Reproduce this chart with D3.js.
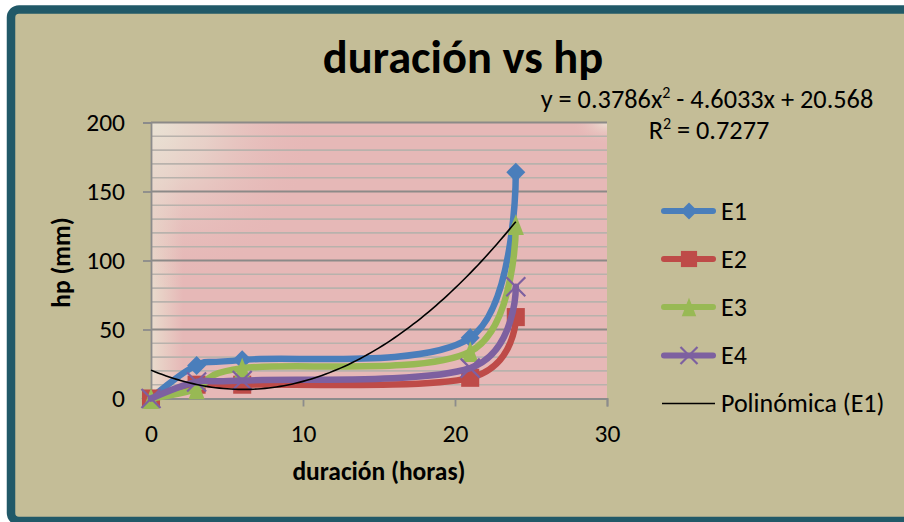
<!DOCTYPE html>
<html>
<head>
<meta charset="utf-8">
<script src="https://cdn.jsdelivr.net/npm/d3@7"></script>
<style>
  html, body { margin: 0; padding: 0; background: #ffffff; }
  svg { display: block; }
  text { font-family: Carlito, Lato, "Open Sans", sans-serif; fill: #000; }
</style>
</head>
<body>
<svg id="chart" width="904" height="522"></svg>
<script>
// ---- data ----
const hours = [0, 3, 6, 21, 24];
const E1 = [0, 24, 28, 44, 164];
const E2 = [0, 10, 10, 15, 59];
const E3 = [0, 7, 22, 34, 126];
const E4 = [0, 12, 13, 22, 81];
const seriesNames = ["E1", "E2", "E3", "E4"];
const seriesColors = ["#4a7ebb", "#be4b48", "#98b954", "#7d60a0"];
const seriesShapes = ["diamond", "square", "triangle", "x"];
const trendCoef = [0.3786, -4.6033, 20.568]; // a x^2 + b x + c
const trendLabel = "Polinómica (E1)";
const xTicks = [0, 10, 20, 30];
const yTicks = [0, 50, 100, 150, 200];
const yMinorTicks = d3.range(0, 201, 10);
const titleText = "duración vs hp";
const xTitle = "duración (horas)";
const yTitle = "hp (mm)";
const eqText = ["y = 0.3786x", "2", " - 4.6033x + 20.568"];
const r2Text = ["R", "2", " = 0.7277"];

const svg = d3.select("#chart");
const W = 904, H = 522;
const FONT = "Carlito, Lato, sans-serif";

// frame
svg.append("rect").attr("x", 0).attr("y", 0).attr("width", W).attr("height", H).attr("fill", "#ffffff");
svg.append("rect").attr("x", 11).attr("y", 9.5).attr("width", 910).attr("height", 511.5)
  .attr("rx", 8).attr("fill", "#c4bd97").attr("stroke", "#215968").attr("stroke-width", 8.5);

const x = d3.scaleLinear().domain([0, 30]).range([151, 607]);
const y = d3.scaleLinear().domain([0, 200]).range([398.5, 122.5]);

// plot background gradients
const defs = svg.append("defs");
const lg = defs.append("linearGradient").attr("id", "lg").attr("x1", 0).attr("x2", 1).attr("y1", 0).attr("y2", 0);
lg.append("stop").attr("offset", 0).attr("stop-color", "#e9dccd");
lg.append("stop").attr("offset", 0.07).attr("stop-color", "#e6b8b7");
lg.append("stop").attr("offset", 1).attr("stop-color", "#e6b8b7");
const rg = defs.append("radialGradient").attr("id", "rg").attr("cx", 0).attr("cy", 0).attr("r", 0.6)
  .attr("gradientTransform", "scale(0.6,1)");
rg.append("stop").attr("offset", 0).attr("stop-color", "#e9e2d4").attr("stop-opacity", 1);
rg.append("stop").attr("offset", 0.35).attr("stop-color", "#e8d6cc").attr("stop-opacity", 0.8);
rg.append("stop").attr("offset", 1).attr("stop-color", "#e6b8b7").attr("stop-opacity", 0);
const rg2 = defs.append("radialGradient").attr("id", "rg2").attr("cx", 1).attr("cy", 0).attr("r", 0.08);
rg2.append("stop").attr("offset", 0).attr("stop-color", "#ece0d2").attr("stop-opacity", 1);
rg2.append("stop").attr("offset", 1).attr("stop-color", "#e6b8b7").attr("stop-opacity", 0);

const px0 = x(0), px1 = x(30), py0 = y(200), py1 = y(0);
["lg", "rg", "rg2"].forEach(id => {
  svg.append("rect").attr("x", px0).attr("y", py0).attr("width", px1 - px0).attr("height", py1 - py0).attr("fill", `url(#${id})`);
});

// minor gridlines
svg.append("g").selectAll("line").data(yMinorTicks.filter(v => v % 50 !== 0)).join("line")
  .attr("x1", px0).attr("x2", px1).attr("y1", d => y(d)).attr("y2", d => y(d))
  .attr("stroke", "#b8b2ac").attr("stroke-width", 1.6);
// major gridlines
svg.append("g").selectAll("line").data(yTicks.filter(v => v > 0)).join("line")
  .attr("x1", px0).attr("x2", px1).attr("y1", d => y(d)).attr("y2", d => y(d))
  .attr("stroke", "#8c8a88").attr("stroke-width", 1.8);

// axes
const yAxis = d3.axisLeft(y).tickValues(yTicks).tickSize(8).tickPadding(18);
const gy = svg.append("g").attr("transform", `translate(${px0},0)`).call(yAxis);
gy.select(".domain").attr("stroke", "#8c8c8c").attr("stroke-width", 1.8);
gy.selectAll(".tick line").attr("stroke", "#8c8c8c").attr("stroke-width", 1.8);
gy.selectAll(".tick text").attr("font-size", 25.5).attr("font-family", FONT).attr("fill", "#000").attr("dy", "0.32em");

const xAxis = d3.axisBottom(x).tickValues(xTicks).tickSize(8).tickPadding(17);
const gx = svg.append("g").attr("transform", `translate(0,${py1})`).call(xAxis);
gx.select(".domain").attr("stroke", "#8c8c8c").attr("stroke-width", 1.8);
gx.selectAll(".tick line").attr("stroke", "#8c8c8c").attr("stroke-width", 1.8);
gx.selectAll(".tick text").attr("font-size", 25.5).attr("font-family", FONT).attr("fill", "#000");

// marker drawing
function marker(g, shape, color, cx, cy, s) {
  const h = s / 2;
  if (shape === "diamond") {
    g.append("path").attr("d", `M${cx},${cy - h}L${cx + h},${cy}L${cx},${cy + h}L${cx - h},${cy}Z`).attr("fill", color);
  } else if (shape === "square") {
    g.append("rect").attr("x", cx - h * 0.95).attr("y", cy - h * 0.95).attr("width", s * 0.95).attr("height", s * 0.95).attr("fill", color);
  } else if (shape === "triangle") {
    g.append("path").attr("d", `M${cx},${cy - h * 1.1}L${cx + h * 0.85},${cy + h * 1.1}L${cx - h * 0.85},${cy + h * 1.1}Z`).attr("fill", color);
  } else if (shape === "x") {
    g.append("path").attr("d", `M${cx - h},${cy - h}L${cx + h},${cy + h}M${cx - h},${cy + h}L${cx + h},${cy - h}`)
      .attr("stroke", color).attr("stroke-width", 2.2).attr("fill", "none");
  }
}

const allSeries = [E1, E2, E3, E4];
const line = d3.line().x(d => x(d[0])).y(d => y(d[1])).curve(d3.curveCardinal.tension(0));
const gSeries = svg.append("g");
allSeries.forEach((vals, i) => {
  const pts = hours.map((h, j) => [h, vals[j]]);
  const g = gSeries.append("g");
  g.append("path").attr("d", line(pts)).attr("fill", "none").attr("stroke", seriesColors[i])
    .attr("stroke-width", 6.5).attr("stroke-linejoin", "round").attr("stroke-linecap", "round");
  pts.forEach(p => marker(g, seriesShapes[i], seriesColors[i], x(p[0]), y(p[1]), 19));
});

// trendline
const trendX = d3.range(0, 24.001, 0.25);
const trendFn = t => trendCoef[0] * t * t + trendCoef[1] * t + trendCoef[2];
svg.append("path").attr("d", d3.line().x(d => x(d)).y(d => y(trendFn(d)))(trendX))
  .attr("fill", "none").attr("stroke", "#000").attr("stroke-width", 1.6);

// title
svg.append("text").attr("x", 463).attr("y", 73).attr("text-anchor", "middle")
  .attr("font-size", 46.5).attr("font-weight", "bold").text(titleText);

// equation
const eq = svg.append("text").attr("x", 707).attr("y", 108).attr("text-anchor", "middle").attr("font-size", 26.3);
eq.append("tspan").text(eqText[0]);
eq.append("tspan").attr("dy", -10).attr("font-size", 16).text(eqText[1]);
eq.append("tspan").attr("dy", 10).text(eqText[2]);
const r2 = svg.append("text").attr("x", 709).attr("y", 139).attr("text-anchor", "middle").attr("font-size", 26.3);
r2.append("tspan").text(r2Text[0]);
r2.append("tspan").attr("dy", -10).attr("font-size", 16).text(r2Text[1]);
r2.append("tspan").attr("dy", 10).text(r2Text[2]);

// axis titles
svg.append("text").attr("x", 379).attr("y", 480).attr("text-anchor", "middle")
  .attr("font-size", 25.5).attr("font-weight", "bold").text(xTitle);
svg.append("text").attr("transform", "translate(70,262.5) rotate(-90)").attr("text-anchor", "middle")
  .attr("font-size", 25.5).attr("font-weight", "bold").text(yTitle);

// legend
const legY = [211, 259, 307, 355.5, 403.5];
const lg2 = svg.append("g");
seriesNames.forEach((n, i) => {
  lg2.append("line").attr("x1", 664).attr("x2", 713).attr("y1", legY[i]).attr("y2", legY[i])
    .attr("stroke", seriesColors[i]).attr("stroke-width", 6).attr("stroke-linecap", "round");
  marker(lg2, seriesShapes[i], seriesColors[i], 689, legY[i], 17);
  lg2.append("text").attr("x", 721).attr("y", legY[i]).attr("dy", "0.33em").attr("font-size", 26).text(n);
});
lg2.append("line").attr("x1", 662).attr("x2", 715).attr("y1", legY[4]).attr("y2", legY[4])
  .attr("stroke", "#000").attr("stroke-width", 1.6);
lg2.append("text").attr("x", 721).attr("y", legY[4]).attr("dy", "0.33em").attr("font-size", 26).text(trendLabel);
</script>
</body>
</html>
